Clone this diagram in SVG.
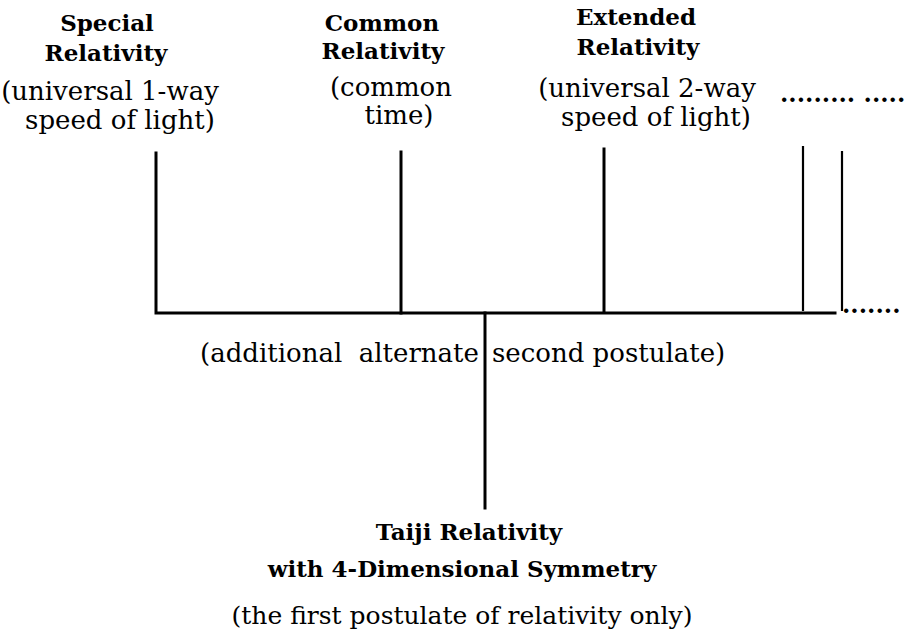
<svg xmlns="http://www.w3.org/2000/svg" width="911" height="636" viewBox="0 0 911 636">
<style>
  .b { font-family: "DejaVu Serif", "Liberation Serif", serif; font-weight: bold; font-size: 23px; fill: #000; text-anchor: middle; }
  .r { font-family: "DejaVu Serif", "Liberation Serif", serif; font-size: 26px; fill: #000; text-anchor: middle; }
  .rs { font-family: "DejaVu Serif", "Liberation Serif", serif; font-size: 25px; fill: #000; text-anchor: middle; }
  .l { font-family: "DejaVu Serif", "Liberation Serif", serif; font-size: 26px; fill: #000; }
  .d { font-family: "DejaVu Serif", "Liberation Serif", serif; font-size: 24px; font-weight: bold; fill: #000; }
  .ln { stroke: #000; stroke-width: 3; fill: none; stroke-linecap: square; }
  .thin { stroke: #000; stroke-width: 2.2; fill: none; }
</style>
<rect width="911" height="636" fill="#fff"/>
<g id="connectors">
  <path class="ln" d="M156 153 V313 H835"/>
  <path class="ln" d="M401 152 V313"/>
  <path class="ln" d="M604 149 V312"/>
  <path class="thin" d="M803 146 V311"/>
  <path class="thin" d="M842 151 V311"/>
  <path class="ln" d="M485 313 V508"/>
  <text class="d" x="842" y="313">.......</text>
</g>
<g id="special">
  <text class="b" x="107" y="31">Special</text>
  <text class="b" x="106" y="61">Relativity</text>
  <text class="r" x="110" y="100">(universal 1-way</text>
  <text class="r" x="120" y="129">speed of light)</text>
</g>
<g id="common">
  <text class="b" x="382" y="31">Common</text>
  <text class="b" x="383" y="59">Relativity</text>
  <text class="r" x="391" y="96">(common</text>
  <text class="r" x="399" y="124">time)</text>
</g>
<g id="extended">
  <text class="b" x="636" y="25">Extended</text>
  <text class="b" x="638" y="55">Relativity</text>
  <text class="r" x="647" y="97">(universal 2-way</text>
  <text class="r" x="656" y="126">speed of light)</text>
</g>
<g id="more">
  <text class="d" x="780" y="102">......... .....</text>
</g>
<g id="postulate">
  <text class="l" x="200" y="362" xml:space="preserve">(additional  alternate</text>
  <text class="l" x="492" y="362">second postulate)</text>
</g>
<g id="taiji">
  <text class="b" x="469" y="540">Taiji Relativity</text>
  <text class="b" x="462" y="577">with 4-Dimensional Symmetry</text>
  <text class="rs" x="462" y="624">(the first postulate of relativity only)</text>
</g>
</svg>
